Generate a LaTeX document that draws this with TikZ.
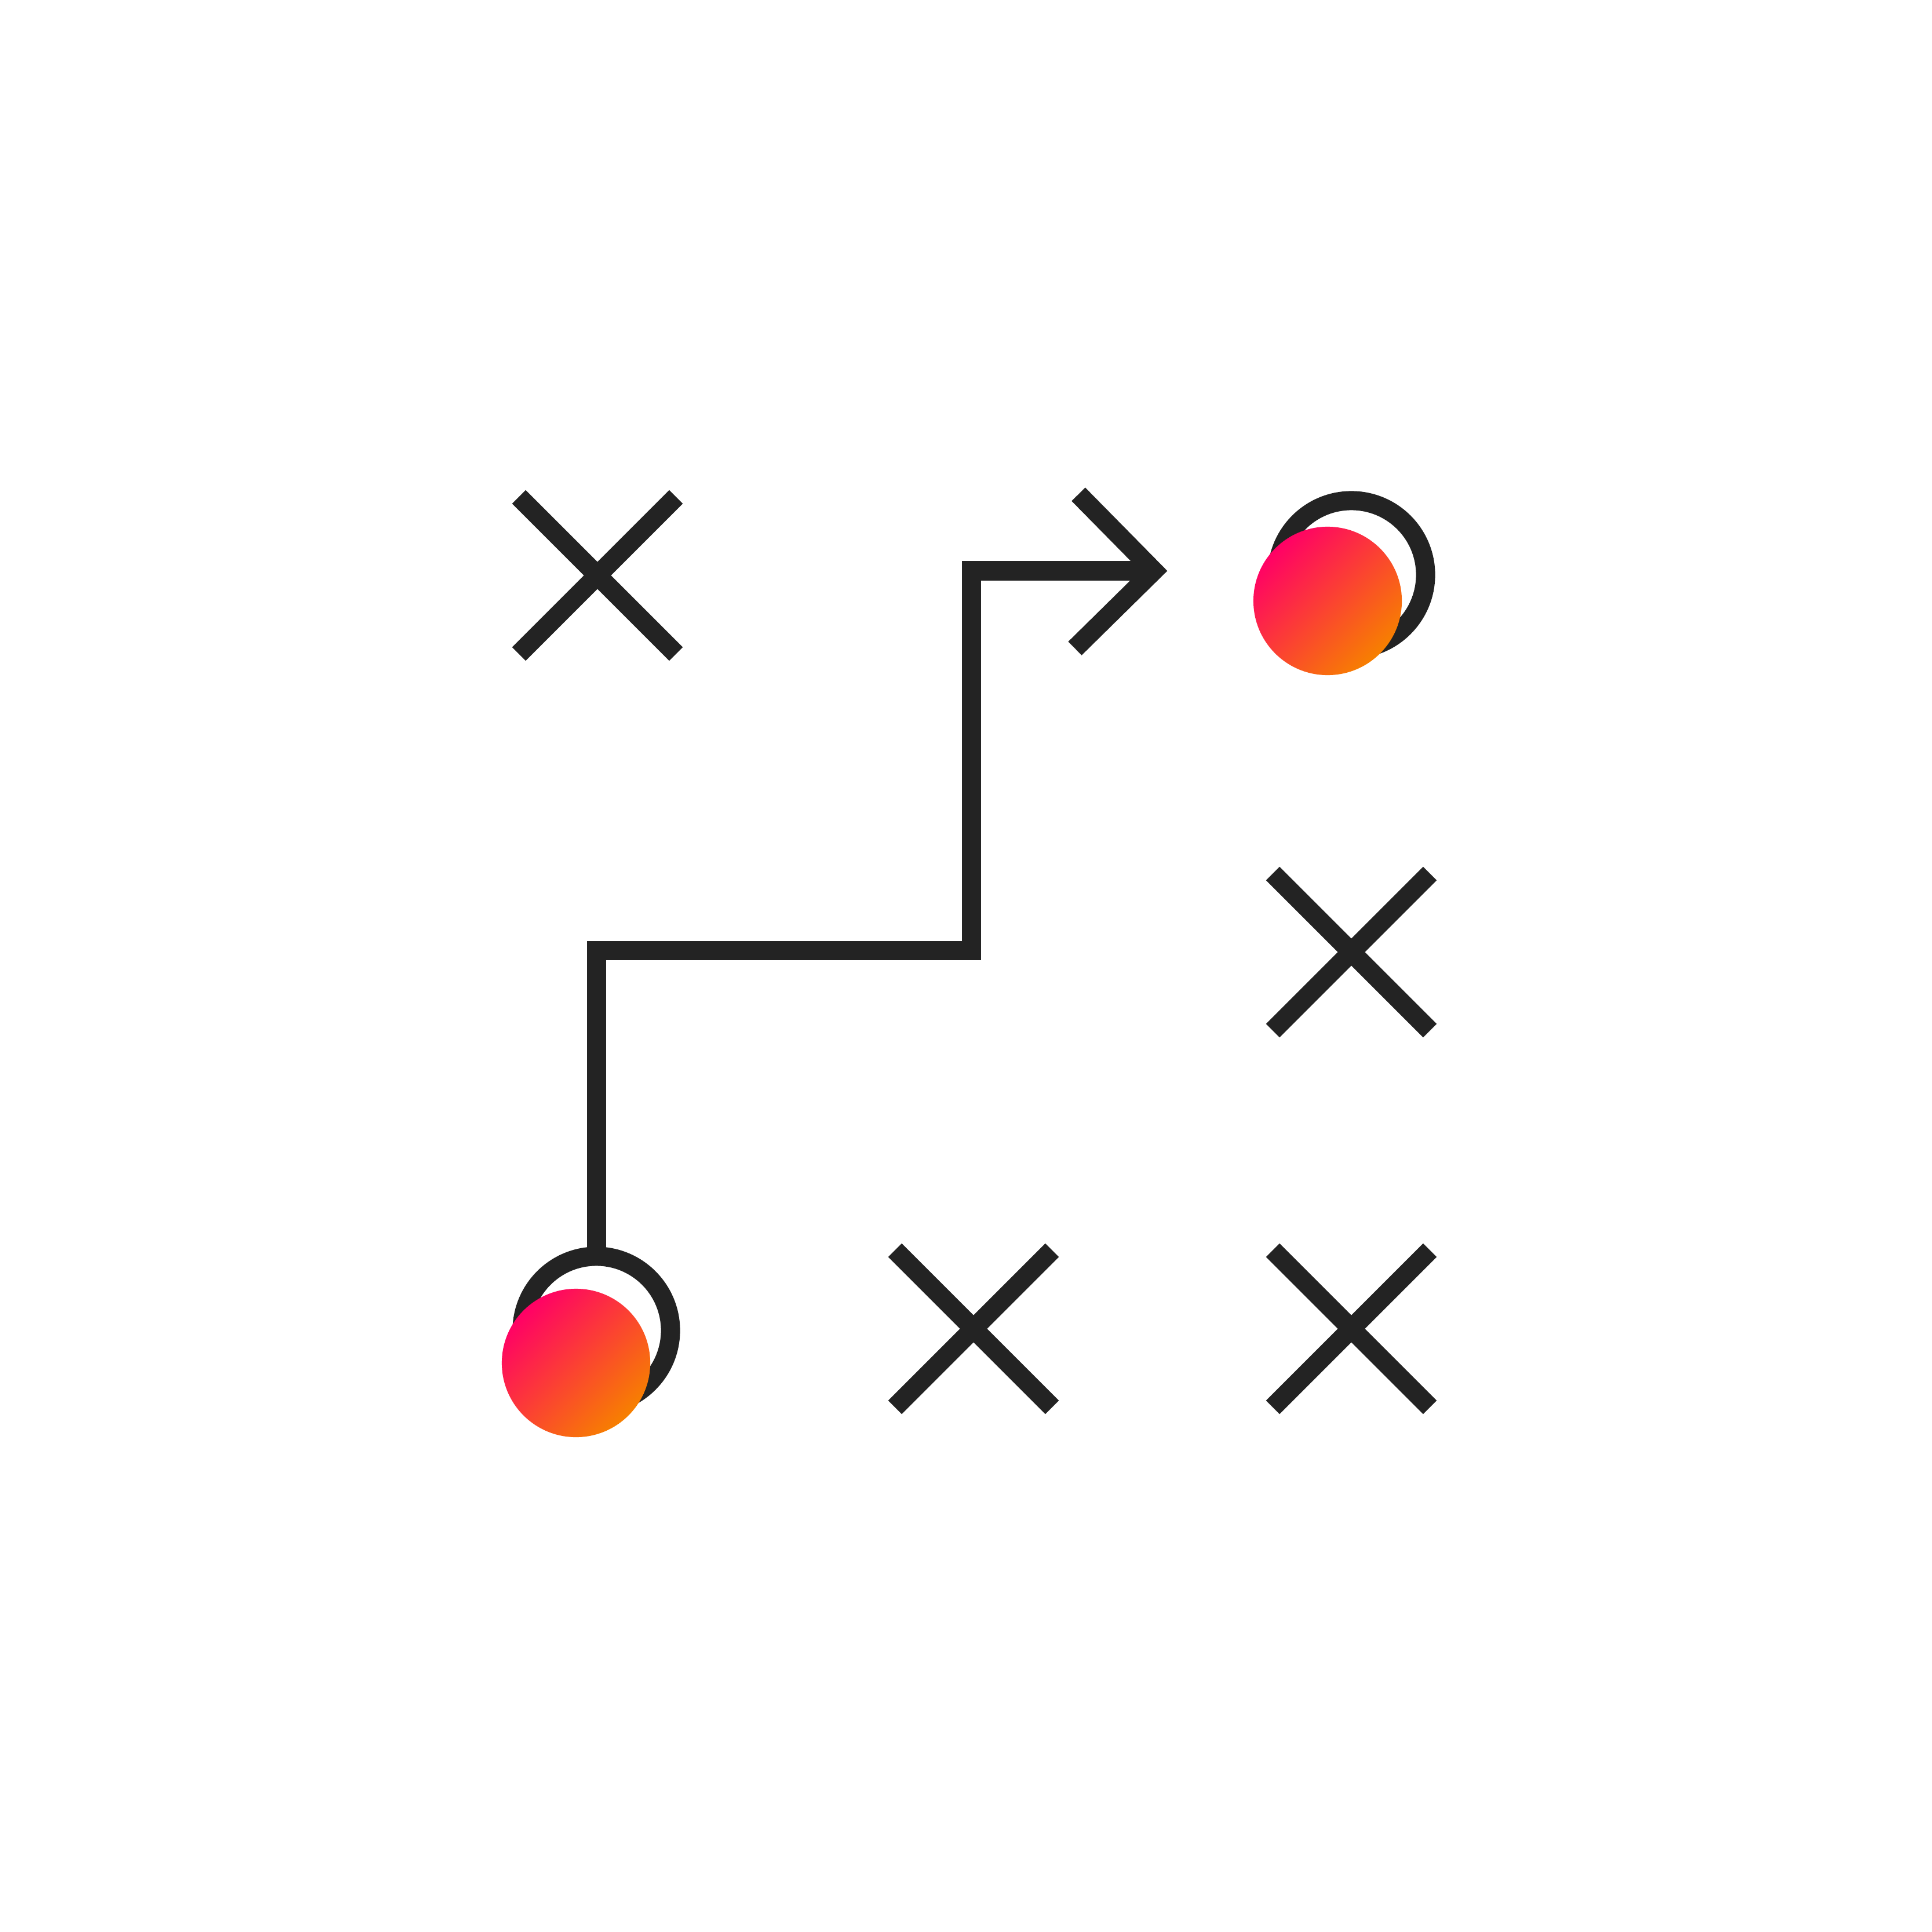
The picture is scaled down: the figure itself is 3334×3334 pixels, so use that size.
\documentclass[tikz,border=0pt]{standalone}
\usepackage{xcolor}
\usepackage{tikz}
\usetikzlibrary{shapes.misc, calc, positioning}
\definecolor{ink}{RGB}{35,35,35}
\definecolor{hotpink}{RGB}{255,0,102}
\definecolor{amber}{RGB}{247,128,0}
\tikzset{
  crossmark/.style = {cross out, draw=ink, line width=0.33cm,
                      minimum size=2.71cm, inner sep=0pt, outer sep=0pt},
  ring/.style      = {circle, draw=ink, line width=0.33cm,
                      minimum size=2.56cm, inner sep=0pt, outer sep=0pt},
  dot/.style       = {circle, minimum size=2.56cm, inner sep=0pt, outer sep=0pt,
                      top color=hotpink, bottom color=amber, shading angle=45},
  route/.style     = {draw=ink, line width=0.33cm},
}

\begin{document}
\begin{tikzpicture}[x=0.01cm, y=-0.01cm]

  %─── Canvas ────────────────────────────────────────────────────────────────
  \fill[white] (0,0) rectangle (3334,3334);
  \useasboundingbox (0,0) rectangle (3334,3334);

  %─── Crosses ───────────────────────────────────────────────────────────────
  \node[crossmark] at (1031,993)  (xtopleft)  {};
  \node[crossmark] at (2332,1643) (xmidright) {};
  \node[crossmark] at (1680,2293) (xbotmid)   {};
  \node[crossmark] at (2332,2293) (xbotright) {};

  %─── Rings ─────────────────────────────────────────────────────────────────
  \node[ring] at (1029,2296) (startring) {};
  \node[ring] at (2332,992)  (goalring)  {};

  %─── Route ─────────────────────────────────────────────────────────────────
  \coordinate (turn) at (1676,1640);
  \coordinate (goal) at (1991,985);
  \draw[route] (startring.north) -- (startring.north |- turn) -- (turn)
               -- (turn |- goal) -- (goal);
  \draw[route] ($(goal)+(-130,-132)$) -- (goal) -- ($(goal)+(-136,134)$);

  %─── Gradient dots ─────────────────────────────────────────────────────────
  \node[dot] at ($(startring)+(-35,56)$) (startdot) {};
  \node[dot] at ($(goalring)+(-41,45)$)  (goaldot)  {};

\end{tikzpicture}
\end{document}
